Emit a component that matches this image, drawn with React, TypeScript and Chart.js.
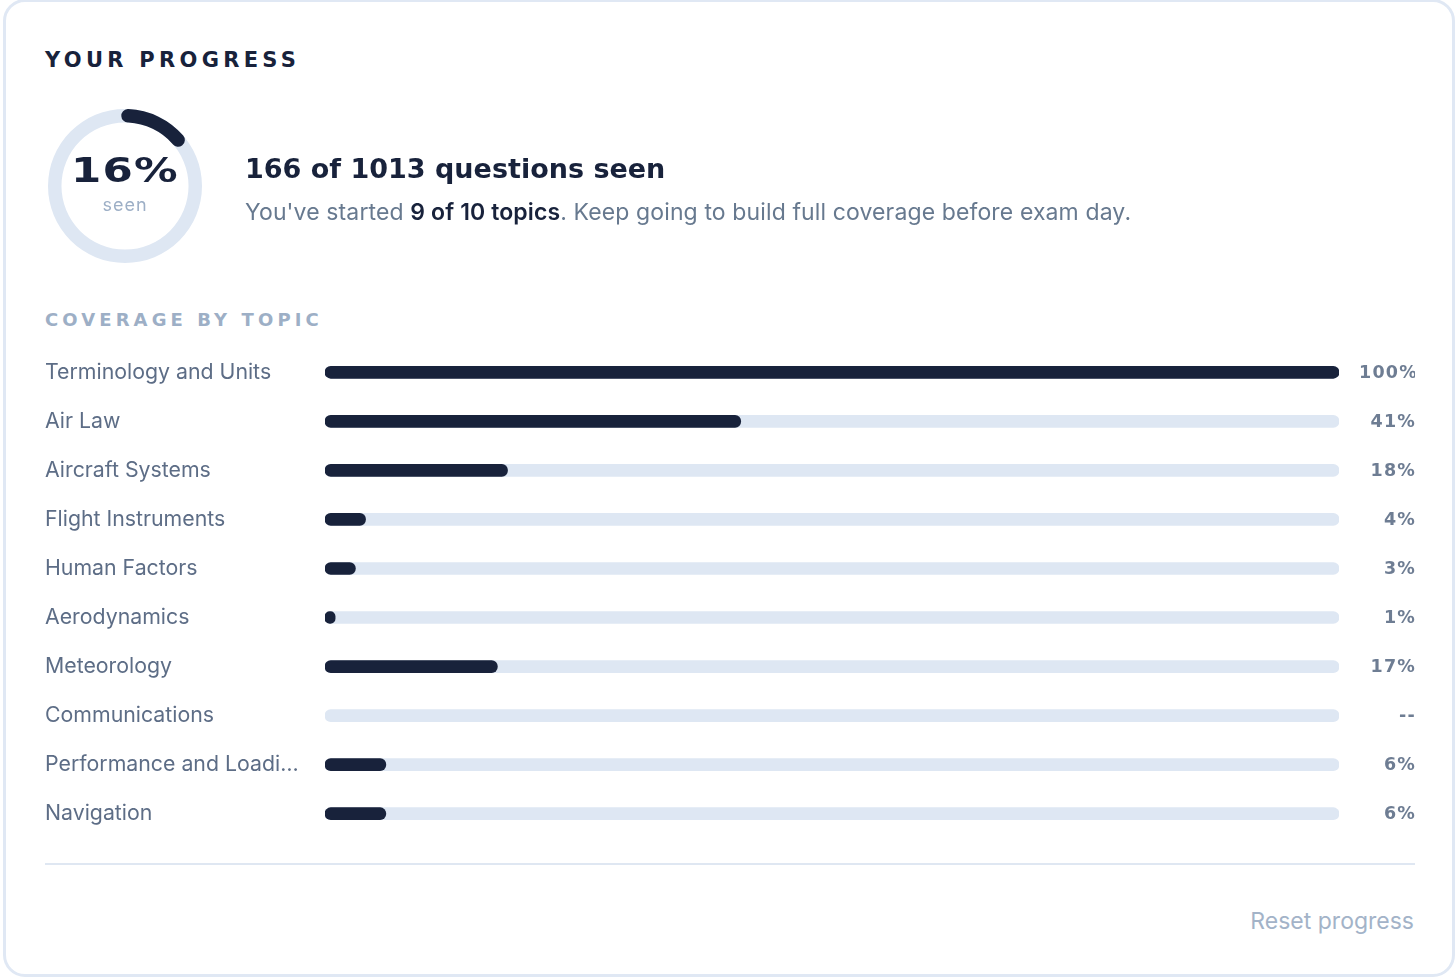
import React, { useEffect, useRef } from "react";
import { Chart, registerables } from "chart.js";

Chart.register(...registerables);

// ---- data ----
const topics: string[] = [
  "Terminology and Units",
  "Air Law",
  "Aircraft Systems",
  "Flight Instruments",
  "Human Factors",
  "Aerodynamics",
  "Meteorology",
  "Communications",
  "Performance and Loadi…",
  "Navigation",
];
const coverage: (number | null)[] = [100, 41, 18, 4, 3, 1, 17, null, 6, 6];
const track: number[] = [100, 100, 100, 100, 100, 100, 100, 100, 100, 100];
const seenLabels: string[] = ["Seen", "Not seen"];
const seenSplit: number[] = [16, 84];
const seenPercent = 16;
const questionsSeen = 166;
const questionsTotal = 1013;
const topicsStarted = 9;
const topicsTotal = 10;

// ---- styles ----
const NAVY = "#18223b";
const TRACK = "#dee7f3";
const SLATE = "#5d6d86";
const SUB = "#67798f";
const PCT = "#6e7d93";
const LIGHT = "#9dafc6";

const DEJAVU = { A: 0.928, D: 0.236 };
const INTER = { A: 0.969, D: 0.242 };

function topFor(baseline: number, size: number, lh: number, m: { A: number; D: number }) {
  return baseline - ((lh - (m.A + m.D) * size) / 2 + m.A * size);
}

const pctPlugin = {
  id: "pctLabels",
  afterDatasetsDraw(chart: any) {
    const { ctx } = chart;
    const yScale = chart.scales.y;
    ctx.save();
    ctx.font = 'bold 17.5px "DejaVu Sans"';
    (ctx as any).letterSpacing = "1.2px";
    ctx.fillStyle = PCT;
    ctx.textBaseline = "middle";
    ctx.textAlign = "left";
    const right = chart.width;
    const colLeft = chart.chartArea.right + 20;
    coverage.forEach((v, i) => {
      const t = v == null ? "--" : `${v}%`;
      const w = ctx.measureText(t).width - 1;
      const x = Math.max(colLeft, right - w);
      ctx.fillText(t, x, yScale.getPixelForValue(i) + 1);
    });
    ctx.restore();
  },
};

const ringTrackPlugin = {
  id: "ringTrack",
  beforeDatasetsDraw(chart: any) {
    const arc = chart.getDatasetMeta(0).data[0] as any;
    if (!arc) return;
    const { x, y, innerRadius, outerRadius } = arc;
    const ctx = chart.ctx;
    ctx.save();
    ctx.beginPath();
    ctx.arc(x, y, outerRadius, 0, Math.PI * 2);
    ctx.arc(x, y, innerRadius, 0, Math.PI * 2, true);
    ctx.closePath();
    ctx.fillStyle = TRACK;
    ctx.fill();
    ctx.restore();
  },
};

function Donut() {
  const ref = useRef<HTMLCanvasElement>(null);
  useEffect(() => {
    if (!ref.current) return;
    const chart = new Chart(ref.current, {
      type: "doughnut",
      data: {
        labels: seenLabels,
        datasets: [
          {
            data: seenSplit,
            backgroundColor: [NAVY, "rgba(0,0,0,0)"],
            borderWidth: 0,
            borderRadius: [7, 0] as any,
          },
        ],
      },
      options: {
        animation: false,
        responsive: false,
        maintainAspectRatio: false,
        cutout: "82.5%",
        rotation: -3,
        plugins: { legend: { display: false }, tooltip: { enabled: false } },
      } as any,
      plugins: [ringTrackPlugin],
    });
    return () => chart.destroy();
  }, []);
  return (
    <canvas
      ref={ref}
      width={154}
      height={154}
      style={{ position: "absolute", left: 48, top: 109, width: 154, height: 154 }}
    />
  );
}

function Bars() {
  const ref = useRef<HTMLCanvasElement>(null);
  useEffect(() => {
    if (!ref.current) return;
    const chart = new Chart(ref.current, {
      type: "bar",
      data: {
        labels: topics,
        datasets: [
          {
            label: "Coverage",
            data: coverage as any,
            backgroundColor: NAVY,
            borderRadius: 999,
            borderSkipped: false,
            barThickness: 12,
            order: 0,
          },
          {
            label: "Track",
            data: track,
            backgroundColor: TRACK,
            borderRadius: 999,
            borderSkipped: false,
            barThickness: 12,
            order: 1,
          },
        ],
      },
      options: {
        indexAxis: "y",
        animation: false,
        responsive: false,
        maintainAspectRatio: false,
        layout: { padding: { left: 0, right: 76, top: 0, bottom: 0 } },
        scales: {
          x: { display: false, min: 0, max: 100 },
          y: {
            stacked: true,
            grid: { display: false },
            border: { display: false },
            ticks: {
              crossAlign: "far",
              padding: 0,
              color: SLATE,
              font: { family: "Inter", size: 21.3 },
            },
            afterFit: (s: any) => {
              s.width = 280;
            },
          },
        },
        plugins: { legend: { display: false }, tooltip: { enabled: false } },
      } as any,
      plugins: [pctPlugin],
    });
    return () => chart.destroy();
  }, []);
  return (
    <canvas
      ref={ref}
      width={1370}
      height={516}
      style={{ position: "absolute", left: 45, top: 335, width: 1370, height: 516 }}
    />
  );
}

export default function App() {
  const abs = (o: any) => ({ position: "absolute", whiteSpace: "nowrap", margin: 0, ...o });
  return (
    <div
      style={{
        position: "fixed",
        left: 0,
        top: 0,
        width: 1456,
        height: 978,
        background: "#ffffff",
        overflow: "hidden",
      }}
    >
      <div
        style={{
          position: "absolute",
          left: 3,
          top: -1,
          width: 1452,
          height: 978,
          boxSizing: "border-box",
          border: "3px solid #e0e8f4",
          borderRadius: 22,
        }}
      />
      <div
        style={abs({
          left: 45,
          top: topFor(68, 21, 21, DEJAVU),
          font: 'bold 21px/21px "DejaVu Sans"',
          letterSpacing: 4.3,
          color: NAVY,
        })}
      >
        YOUR PROGRESS
      </div>

      <Donut />
      <div
        style={abs({
          left: 25,
          width: 200,
          textAlign: "center",
          top: topFor(182, 34, 34, DEJAVU),
          font: 'bold 34px/34px "DejaVu Sans"',
          letterSpacing: 1,
          color: NAVY,
          transform: "scaleX(1.28)",
        })}
      >
        {seenPercent}%
      </div>
      <div
        style={abs({
          left: 25,
          width: 200,
          textAlign: "center",
          top: topFor(212, 18, 18, INTER),
          font: '18px/18px "Inter"',
          letterSpacing: 1,
          color: LIGHT,
        })}
      >
        seen
      </div>

      <div
        style={abs({
          left: 245,
          top: topFor(178, 27, 27, DEJAVU),
          font: 'bold 27px/27px "DejaVu Sans"',
          color: NAVY,
        })}
      >
        {questionsSeen} of {questionsTotal} questions seen
      </div>
      <div
        style={abs({
          left: 245,
          top: topFor(221, 23, 23, INTER),
          font: '23px/23px "Inter"',
          letterSpacing: 0.12,
          color: SUB,
        })}
      >
        You've started{" "}
        <span style={{ color: NAVY, fontWeight: 600 }}>
          {topicsStarted} of {topicsTotal} topics
        </span>
        . Keep going to build full coverage before exam day.
      </div>

      <div
        style={abs({
          left: 45,
          top: topFor(326, 18, 18, DEJAVU),
          font: 'bold 18px/18px "DejaVu Sans"',
          letterSpacing: 4.1,
          color: LIGHT,
        })}
      >
        COVERAGE BY TOPIC
      </div>

      <Bars />

      <div style={abs({ left: 45, top: 863, width: 1370, height: 2, background: "#dfe7f2" })} />

      <div
        style={abs({
          right: 1456 - 1414,
          top: topFor(930, 23, 23, INTER),
          font: '23px/23px "Inter"',
          color: "#a3b3c8",
        })}
      >
        Reset progress
      </div>
    </div>
  );
}
